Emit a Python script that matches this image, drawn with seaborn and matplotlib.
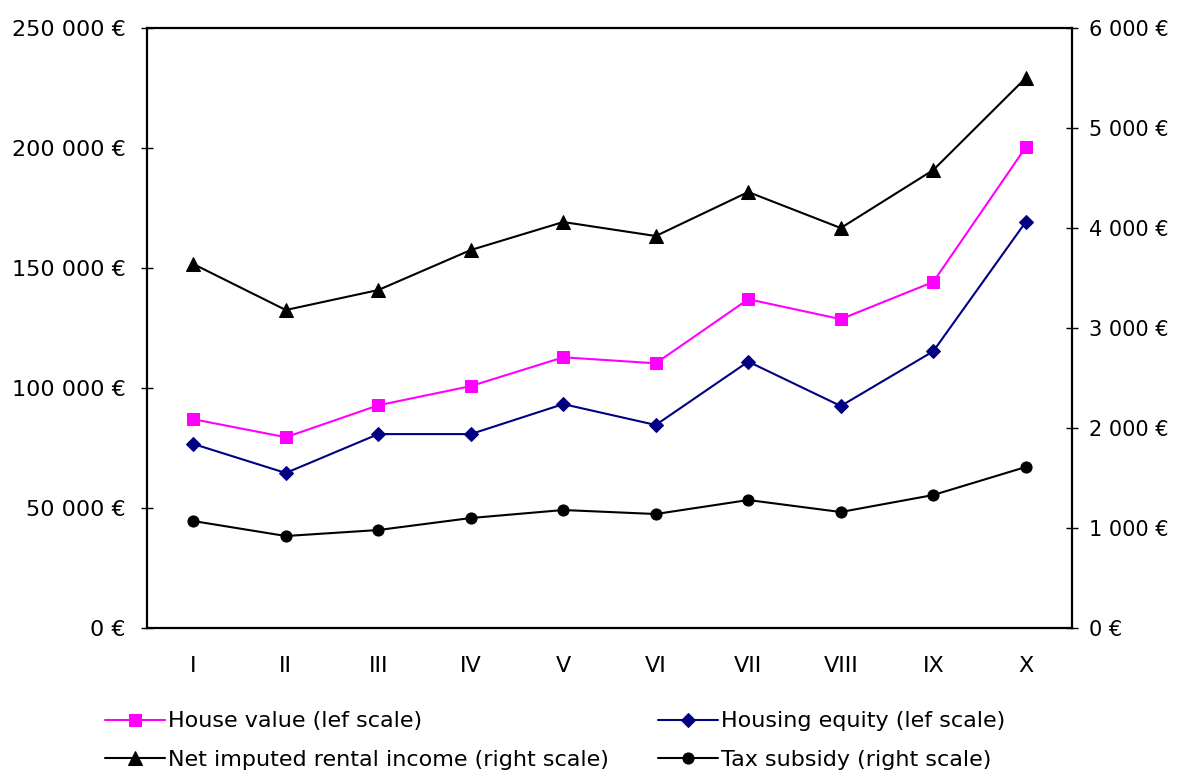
import numpy as np
import pandas as pd
import matplotlib
matplotlib.use("Agg")
import matplotlib.pyplot as plt
import seaborn as sns
from matplotlib.ticker import FuncFormatter, FixedLocator, NullFormatter

# deciles
deciles = ["I", "II", "III", "IV", "V", "VI", "VII", "VIII", "IX", "X"]

# left scale (EUR)
house_value = [87000, 79500, 92800, 100800, 112800, 110300, 137000, 128700, 144200, 200300]
housing_equity = [76700, 64600, 80800, 80800, 93300, 84600, 111000, 92500, 115300, 169200]

# right scale (EUR)
rental_income = [3640, 3180, 3380, 3780, 4060, 3920, 4360, 4000, 4580, 5500]
tax_subsidy = [1070, 920, 980, 1100, 1180, 1140, 1280, 1160, 1330, 1610]

left_ticks = [0, 50000, 100000, 150000, 200000, 250000]
right_ticks = [0, 1000, 2000, 3000, 4000, 5000, 6000]

df = pd.DataFrame({
    "pos": np.arange(len(deciles)),
    "decile": deciles,
    "house": house_value,
    "equity": housing_equity,
    "rental": rental_income,
    "tax": tax_subsidy,
})

sns.set_style("white")
plt.rcParams["font.family"] = ["DejaVu Sans"]
plt.rcParams["font.size"] = 16
plt.rcParams["text.color"] = "black"
plt.rcParams["xtick.color"] = "black"
plt.rcParams["ytick.color"] = "black"
plt.rcParams["xtick.labelcolor"] = "black"
plt.rcParams["ytick.labelcolor"] = "black"


def euro(v, pos=None):
    return "{:,.0f} €".format(v).replace(",", " ")


fig = plt.figure(figsize=(11.84, 7.74), dpi=100)
ax = fig.add_axes([0.1242, 0.1886, 0.7812, 0.7752])
ax2 = ax.twinx()

sns.lineplot(data=df, x="pos", y="house", ax=ax, color="#FF00FF", marker="s",
             markersize=8, markeredgecolor="#FF00FF", linewidth=1.5,
             label="House value (lef scale)", legend=False)
sns.lineplot(data=df, x="pos", y="equity", ax=ax, color="#000080", marker="D",
             markersize=7.5, markeredgecolor="#000080", linewidth=1.5,
             label="Housing equity (lef scale)", legend=False)
sns.lineplot(data=df, x="pos", y="rental", ax=ax2, color="black", marker="^",
             markersize=9.5, markeredgecolor="black", linewidth=1.5,
             label="Net imputed rental income (right scale)", legend=False)
sns.lineplot(data=df, x="pos", y="tax", ax=ax2, color="black", marker="o",
             markersize=8, markeredgecolor="black", linewidth=1.5,
             label="Tax subsidy (right scale)", legend=False)

ax.set_xlim(-0.5, len(deciles) - 0.5)
ax.set_ylim(left_ticks[0], left_ticks[-1])
ax2.set_ylim(right_ticks[0], right_ticks[-1])

# x: ticks at category boundaries, labels at centres
ax.xaxis.set_major_locator(FixedLocator(np.arange(len(deciles) + 1) - 0.5))
ax.xaxis.set_major_formatter(NullFormatter())
ax.xaxis.set_minor_locator(FixedLocator(df["pos"]))
ax.set_xticklabels(deciles, minor=True)
ax.tick_params(axis="x", which="major", direction="inout", length=9, width=1, color="#555555")
ax.tick_params(axis="x", which="minor", length=0, pad=20, labelsize=16)

ax.set_yticks(left_ticks)
ax.yaxis.set_major_formatter(FuncFormatter(euro))
ax.tick_params(axis="y", direction="inout", length=9, width=1, pad=11, labelsize=16, left=True)

ax2.set_yticks(right_ticks)
ax2.yaxis.set_major_formatter(FuncFormatter(euro))
ax2.tick_params(axis="y", direction="inout", length=9, width=1, pad=8, labelsize=15, right=True)

ax.set_xlabel("")
ax.set_ylabel("")
ax2.set_ylabel("")
ax.grid(False)
ax2.grid(False)

for a in (ax, ax2):
    for s in a.spines.values():
        s.set_visible(False)
ax.spines["left"].set_visible(True)
ax.spines["bottom"].set_visible(True)
ax.spines["top"].set_visible(True)
ax2.spines["right"].set_visible(True)
for s in (ax.spines["left"], ax.spines["bottom"], ax.spines["top"], ax2.spines["right"]):
    s.set_color("black")
    s.set_linewidth(1.6)

h1, l1 = ax.get_legend_handles_labels()
h2, l2 = ax2.get_legend_handles_labels()
handles = [h1[0], h2[0], h1[1], h2[1]]
labels = [l1[0], l2[0], l1[1], l2[1]]
fig.legend(handles, labels, ncol=2, loc="upper left", bbox_to_anchor=(0.0887, 0.081),
           frameon=False, fontsize=16, handlelength=2.7, handletextpad=0.15,
           columnspacing=2.2, labelspacing=0.85, borderpad=0, borderaxespad=0)

fig.savefig("out.png", dpi=100)
